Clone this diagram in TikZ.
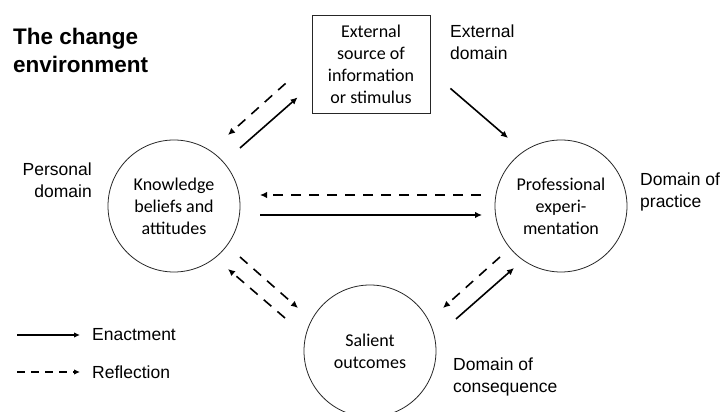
\documentclass[tikz,border=0pt]{standalone}
\usepackage{fontspec}
\setmainfont{Liberation Sans}
\newfontfamily\calib{Carlito}
\usetikzlibrary{calc,arrows.meta,positioning}

\tikzset{
	area/.style={circle,draw=black!85,line width=0.8pt,minimum size=132pt,inner sep=0pt,align=center,font=\calib\fontsize{18}{22}\selectfont},
	srcbox/.style={rectangle,draw=black!85,line width=0.8pt,minimum width=118pt,minimum height=98pt,inner sep=0pt,align=center,font=\calib\fontsize{18}{22}\selectfont},
	lbl/.style={inner sep=0pt,font=\fontsize{17.5}{22}\selectfont},
	enact/.style={line width=1.6pt,-{Latex[length=7pt,width=6.5pt]}},
	reflect/.style={enact,dash pattern=on 10pt off 8pt},
}

\begin{document}
\begin{tikzpicture}[x=1pt,y=1pt]
	\useasboundingbox (0,0) rectangle (726,412);
	% areas
	\node[area] (know) at (174,206) {Knowledge\\beliefs and\\attitudes};
	\node[area] (prof) at (561,206) {Professional\\experi-\\mentation};
	\node[area] (sal) at (370,61) {Salient\\outcomes};
	\node[srcbox] (ext) at (371,348) {External\\source of\\information\\or stimulus};
	% labels
	\node[inner sep=0pt,anchor=north west,align=left,font=\bfseries\fontsize{22.5}{28}\selectfont] (title) at (13,384) {The change\\environment};
	\node[lbl,anchor=north east,align=right] (personal) at (92,249) {Personal\\domain};
	\node[lbl,anchor=north west,align=left] (external) at (450,387) {External\\domain};
	\node[lbl,anchor=north west,align=left] (practice) at (640,239) {Domain of\\practice};
	\node[lbl,anchor=north west,align=left] (conseq) at (453,54) {Domain of\\consequence};
	% arrows
	\draw[enact] ($(know)+(66,58)$) -- ($(ext.south west)+(-14,16)$);
	\draw[reflect] ($(ext.south west)+(-26,30)$) -- ($(know)+(54,71)$);
	\draw[enact] ($(ext.south east)+(20,25)$) -- ($(prof)+(-53,68)$);
	\draw[reflect] ($(prof)+(-80,11)$) -- ($(know)+(86,11)$);
	\draw[enact] ($(know)+(86,-9)$) -- ($(prof)+(-79,-9)$);
	\draw[reflect] ($(know)+(66,-51)$) -- ($(sal)+(-72,43)$);
	\draw[reflect] ($(sal)+(-85,33)$) -- ($(know)+(54,-63)$);
	\draw[reflect] ($(prof)+(-61,-51)$) -- ($(sal)+(73,43)$);
	\draw[enact] ($(sal)+(86,32)$) -- ($(prof)+(-47,-62)$);
	% legend
	\coordinate (e1) at (17,77);
	\coordinate (r1) at (17,40);
	\draw[enact,line width=1.4pt,-{Latex[length=6pt,width=5.5pt]}] (e1) -- ++(63,0) coordinate (e2);
	\draw[reflect,line width=1.4pt,dash pattern=on 8pt off 6pt,-{Latex[length=6pt,width=5.5pt]}] (r1) -- ++(63,0) coordinate (r2);
	\node[lbl,anchor=west] (enactment) at ($(e2)+(12,0)$) {Enactment};
	\node[lbl,anchor=west] (reflection) at ($(r2)+(12,0)$) {Reflection};
\end{tikzpicture}
\end{document}
